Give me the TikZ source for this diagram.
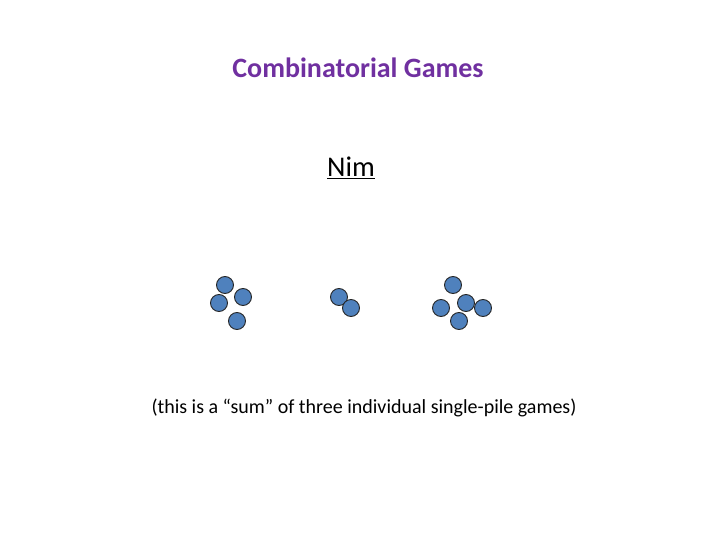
\documentclass[tikz,border=0pt]{standalone}
\usepackage{fontspec}
\setmainfont{Carlito}
\definecolor{ttl}{HTML}{7030A0}
\definecolor{ball}{HTML}{4F81BD}
\begin{document}
\begin{tikzpicture}[x=1pt,y=-1pt,
  stone/.style={circle,draw=black!85,fill=ball,line width=0.9pt,minimum size=17pt,inner sep=0pt}]
\useasboundingbox (0,0) rectangle (720,540);
\node[font=\fontsize{28}{32}\selectfont\bfseries,text=ttl] (title) at (358,68) {Combinatorial Games};
\node[font=\fontsize{28.5}{32}\selectfont] (nim) at (351,168) {\underline{Nim}};
\node[font=\fontsize{20}{24}\selectfont] (cap) at (364,408) {(this is a “sum” of three individual single-pile games)};
\foreach \n/\x/\y in {a1/225/285,a2/219/303,a3/243/297,a4/237/321,
  b1/339/297,b2/351/308,
  c1/453/285,c2/441/308,c3/466/303,c4/483/308,c5/459/321}
  \node[stone] (\n) at (\x,\y) {};
\end{tikzpicture}
\end{document}
